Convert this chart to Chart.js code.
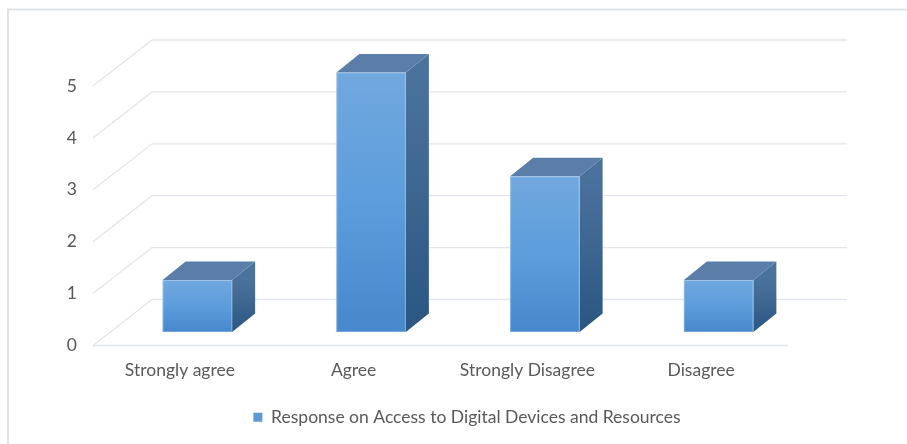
<!DOCTYPE html>
<html>
<head>
<meta charset="utf-8">
<script src="https://cdn.jsdelivr.net/npm/chart.js@4"></script>
<style>
  html, body { margin: 0; padding: 0; background: #fff; }
  #wrap { width: 907px; height: 444px; position: relative; }
</style>
</head>
<body>
<div id="wrap"><canvas id="chart"></canvas></div>
<script>
const categories = ['Strongly agree', 'Agree', 'Strongly Disagree', 'Disagree']
const responses = [1, 5, 3, 1]
const yTicks = [0, 1, 2, 3, 4, 5]
const seriesName = 'Response on Access to Digital Devices and Resources'

// depth of the 3d box (back wall offset) and where the bars sit inside it
const WALL = { dx: 59, dy: -46 }
const BAR_FRONT = { dx: 17.5, dy: -13.5 }
const BAR_BACK = { dx: 40.5, dy: -32 }
const textColor = '#595959'
const gridColor = '#e3e6ec'
const fontFamily = 'Lato'

const frame3d = {
    id: 'frame3d',
    beforeDatasetsDraw(chart) {
        const ctx = chart.ctx
        const { left, right } = chart.chartArea
        const y = chart.scales.y
        ctx.save()
        ctx.strokeStyle = gridColor
        ctx.lineWidth = 1.3
        yTicks.forEach(v => {
            const py = y.getPixelForValue(v)
            ctx.beginPath()
            ctx.moveTo(left, py)
            ctx.lineTo(left + WALL.dx, py + WALL.dy)
            ctx.lineTo(right + WALL.dx, py + WALL.dy)
            ctx.stroke()
        })
        const base = y.getPixelForValue(0)
        ctx.beginPath()
        ctx.moveTo(left, base)
        ctx.lineTo(right, base)
        ctx.stroke()
        ctx.restore()
    },
    afterDatasetsDraw(chart) {
        const ctx = chart.ctx
        const meta = chart.getDatasetMeta(0)
        ctx.save()
        meta.data.forEach(bar => {
            const w = bar.width
            const x0 = bar.x - w / 2 + BAR_FRONT.dx
            const x1 = bar.x + w / 2 + BAR_FRONT.dx
            const top = bar.y + BAR_FRONT.dy
            const bot = bar.base + BAR_FRONT.dy
            const ddx = BAR_BACK.dx - BAR_FRONT.dx
            const ddy = BAR_BACK.dy - BAR_FRONT.dy

            // side face
            const sg = ctx.createLinearGradient(0, top, 0, bot)
            sg.addColorStop(0, '#4b729c')
            sg.addColorStop(1, '#2b5682')
            ctx.fillStyle = sg
            ctx.beginPath()
            ctx.moveTo(x1, top)
            ctx.lineTo(x1 + ddx, top + ddy)
            ctx.lineTo(x1 + ddx, bot + ddy)
            ctx.lineTo(x1, bot)
            ctx.closePath()
            ctx.fill()

            // top face
            ctx.fillStyle = '#5a7ea7'
            ctx.beginPath()
            ctx.moveTo(x0, top)
            ctx.lineTo(x0 + ddx, top + ddy)
            ctx.lineTo(x1 + ddx, top + ddy)
            ctx.lineTo(x1, top)
            ctx.closePath()
            ctx.fill()

            // front face
            const fg = ctx.createLinearGradient(0, top, 0, bot)
            fg.addColorStop(0, '#71a8de')
            fg.addColorStop(0.5, '#5c9ddc')
            fg.addColorStop(1, '#4688cb')
            ctx.fillStyle = fg
            ctx.fillRect(x0, top, x1 - x0, bot - top)

            ctx.strokeStyle = 'rgba(255,255,255,0.25)'
            ctx.lineWidth = 1
            ctx.strokeRect(x0 + 0.5, top + 0.5, x1 - x0 - 1, bot - top - 1)
        })
        ctx.restore()
    },
    afterDraw(chart) {
        // outer chart border (top and left)
        const ctx = chart.ctx
        ctx.save()
        ctx.strokeStyle = '#dfe3e8'
        ctx.lineWidth = 2
        ctx.beginPath()
        ctx.moveTo(8, 444)
        ctx.lineTo(8, 9.5)
        ctx.lineTo(907, 9.5)
        ctx.stroke()
        ctx.restore()
    }
}

new Chart(document.getElementById('chart'), {
    type: 'bar',
    data: {
        labels: categories,
        datasets: [{
            label: seriesName,
            data: responses,
            backgroundColor: 'rgba(0,0,0,0)',
            borderWidth: 0,
            barPercentage: 0.4,
            categoryPercentage: 1
        }]
    },
    options: {
        responsive: true,
        maintainAspectRatio: false,
        animation: false,
        layout: { padding: { top: 86, right: 0, left: 27, bottom: 8 } },
        plugins: {
            tooltip: { enabled: false },
            legend: {
                position: 'bottom',
                labels: {
                    color: textColor,
                    font: { family: fontFamily, size: 17.5 },
                    boxWidth: 9,
                    boxHeight: 9,
                    padding: 10,
                    generateLabels: () => [{
                        text: seriesName,
                        fillStyle: '#5b9bd5',
                        strokeStyle: '#5b9bd5',
                        lineWidth: 0,
                        fontColor: textColor
                    }]
                }
            }
        },
        scales: {
            x: {
                grid: { display: false },
                border: { display: false },
                ticks: { color: textColor, font: { family: fontFamily, size: 17.5 }, padding: 6, maxRotation: 0 },
                afterFit: s => { s.height = 53 }
            },
            y: {
                min: 0,
                max: 5,
                grid: { display: false, drawTicks: false },
                border: { display: false },
                ticks: { color: textColor, font: { family: fontFamily, size: 17.5 }, padding: 16, stepSize: 1 },
                afterFit: s => { s.width = 66 }
            },
            // empty right axis: reserves room for the receding back wall
            depth: {
                type: 'linear',
                position: 'right',
                grid: { display: false },
                border: { display: false },
                ticks: { display: false },
                afterFit: s => { s.width = 119 }
            }
        }
    },
    plugins: [frame3d]
})
</script>
</body>
</html>
